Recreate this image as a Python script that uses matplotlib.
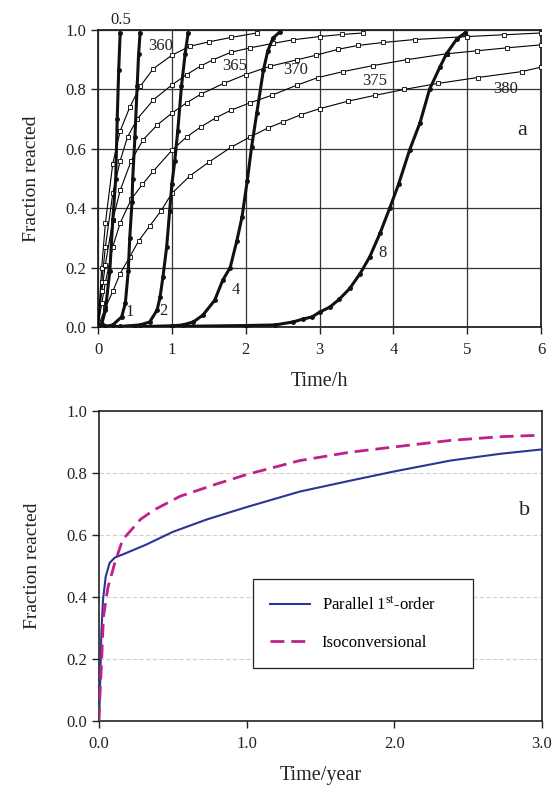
import matplotlib
matplotlib.use("Agg")
import matplotlib.pyplot as plt

plt.rcParams['font.family'] = ['Liberation Serif', 'DejaVu Serif']
plt.rcParams['mathtext.fontset'] = 'custom'
plt.rcParams['mathtext.rm'] = 'Liberation Serif'
plt.rcParams['mathtext.it'] = 'Liberation Serif:italic'

# ---------------- Panel a data ----------------
iso_labels = ["360", "365", "370", "375", "380"]
t360 = [0, 0.05, 0.1, 0.2, 0.3, 0.43, 0.57, 0.75, 1.0, 1.24, 1.5, 1.8, 2.15]
f360 = [0, 0.20, 0.35, 0.55, 0.66, 0.74, 0.81, 0.87, 0.915, 0.945, 0.96, 0.975, 0.99]
t365 = [0, 0.05, 0.1, 0.2, 0.3, 0.4, 0.53, 0.75, 1.0, 1.2, 1.4, 1.56, 1.8, 2.06, 2.37, 2.64, 3.0, 3.3, 3.59]
f365 = [0, 0.15, 0.27, 0.45, 0.56, 0.64, 0.70, 0.765, 0.815, 0.85, 0.88, 0.90, 0.925, 0.94, 0.955, 0.967, 0.978, 0.985, 0.99]
t370 = [0, 0.05, 0.1, 0.2, 0.3, 0.45, 0.61, 0.8, 1.0, 1.2, 1.4, 1.7, 2.0, 2.33, 2.7, 2.95, 3.25, 3.52, 3.86, 4.29, 5.0, 5.5, 6.0]
f370 = [0, 0.12, 0.21, 0.36, 0.46, 0.56, 0.63, 0.68, 0.72, 0.755, 0.785, 0.82, 0.85, 0.878, 0.90, 0.915, 0.935, 0.948, 0.958, 0.968, 0.978, 0.984, 0.99]
t375 = [0, 0.05, 0.1, 0.2, 0.3, 0.45, 0.6, 0.75, 1.0, 1.2, 1.4, 1.6, 1.8, 2.06, 2.35, 2.7, 2.98, 3.32, 3.72, 4.18, 4.72, 5.13, 5.54, 6.0]
f375 = [0, 0.08, 0.15, 0.27, 0.35, 0.43, 0.48, 0.525, 0.595, 0.64, 0.675, 0.705, 0.73, 0.755, 0.78, 0.815, 0.84, 0.86, 0.88, 0.90, 0.92, 0.93, 0.94, 0.95]
t380 = [0, 0.1, 0.2, 0.3, 0.43, 0.55, 0.7, 0.85, 1.0, 1.25, 1.5, 1.8, 2.06, 2.3, 2.5, 2.75, 3.0, 3.38, 3.75, 4.15, 4.6, 5.14, 5.74, 6.0]
f380 = [0, 0.065, 0.12, 0.18, 0.236, 0.29, 0.34, 0.39, 0.45, 0.51, 0.555, 0.605, 0.64, 0.67, 0.69, 0.715, 0.735, 0.76, 0.78, 0.80, 0.82, 0.84, 0.86, 0.875]

sig_labels = ["0.5", "1", "2", "4", "8"]
ts05 = [0, 0.05, 0.1, 0.16, 0.2, 0.24, 0.26, 0.28, 0.30]
fs05 = [0, 0.01, 0.057, 0.19, 0.36, 0.50, 0.70, 0.865, 0.99]
ts1 = [0, 0.1, 0.2, 0.32, 0.37, 0.41, 0.43, 0.46, 0.47, 0.50, 0.53, 0.55, 0.57]
fs1 = [0, 0.002, 0.007, 0.034, 0.08, 0.19, 0.30, 0.42, 0.50, 0.64, 0.81, 0.92, 0.99]
ts2 = [0, 0.3, 0.57, 0.70, 0.80, 0.84, 0.88, 0.93, 0.97, 1.0, 1.04, 1.08, 1.13, 1.18, 1.22]
fs2 = [0, 0.002, 0.007, 0.017, 0.057, 0.10, 0.17, 0.27, 0.39, 0.48, 0.56, 0.66, 0.81, 0.92, 0.99]
ts4 = [0, 0.5, 1.0, 1.15, 1.29, 1.42, 1.58, 1.69, 1.79, 1.88, 1.95, 2.02, 2.08, 2.15, 2.24, 2.30, 2.37, 2.46]
fs4 = [0, 0.001, 0.004, 0.007, 0.017, 0.04, 0.09, 0.158, 0.20, 0.29, 0.37, 0.49, 0.606, 0.72, 0.865, 0.93, 0.973, 0.993]
ts8 = [0, 1.0, 2.0, 2.4, 2.64, 2.78, 2.9, 3.0, 3.14, 3.27, 3.41, 3.55, 3.68, 3.82, 3.95, 4.07, 4.22, 4.36, 4.49, 4.63, 4.72, 4.86, 4.97]
fs8 = [0, 0.002, 0.005, 0.007, 0.017, 0.027, 0.034, 0.05, 0.067, 0.094, 0.13, 0.18, 0.236, 0.316, 0.40, 0.48, 0.596, 0.687, 0.80, 0.875, 0.92, 0.97, 0.99]

# ---------------- Panel b data ----------------
par_t = [0, 0.005, 0.016, 0.027, 0.045, 0.072, 0.107, 0.16, 0.32, 0.5, 0.73, 1.0, 1.36, 1.7, 2.0, 2.38, 2.72, 3.0]
par_f = [0, 0.07, 0.285, 0.39, 0.465, 0.51, 0.527, 0.537, 0.569, 0.61, 0.65, 0.69, 0.74, 0.775, 0.805, 0.84, 0.862, 0.876]
iso_t = [0, 0.003, 0.01, 0.016, 0.03, 0.06, 0.107, 0.16, 0.22, 0.28, 0.37, 0.55, 0.8, 1.0, 1.36, 1.7, 2.0, 2.38, 2.72, 3.0]
iso_f = [0, 0.05, 0.12, 0.175, 0.335, 0.43, 0.51, 0.585, 0.617, 0.65, 0.68, 0.725, 0.765, 0.795, 0.84, 0.867, 0.884, 0.905, 0.917, 0.922]

fig = plt.figure(figsize=(5.55, 7.92), dpi=100)
axa = fig.add_axes([0.1766, 0.5871, 0.7982, 0.3750])
axb = fig.add_axes([0.1784, 0.0897, 0.7982, 0.3914])

FS = 12
TXT = '#222222'
# ---- panel a ----
iso_series = [(t360, f360), (t365, f365), (t370, f370), (t375, f375), (t380, f380)]
for t, f in iso_series:
    axa.plot(t, f, color='black', lw=0.8, zorder=3)
    axa.plot(t[1:], f[1:], ls='none', marker='s', ms=2.3, mfc='white', mec='black', mew=0.6, zorder=4)
sig_series = [(ts05, fs05), (ts1, fs1), (ts2, fs2), (ts4, fs4), (ts8, fs8)]
for t, f in sig_series:
    axa.plot(t, f, color='#111111', lw=2.2, marker='o', ms=2.5, zorder=5)

axa.set_xlim(0, 6)
axa.set_ylim(0, 1.0)
axa.set_xticks(range(7))
axa.set_yticks([0, 0.2, 0.4, 0.6, 0.8, 1.0])
axa.set_yticklabels(['0.0', '0.2', '0.4', '0.6', '0.8', '1.0'])
axa.grid(True, color='#333333', lw=0.9)
axa.set_axisbelow(True)
axa.tick_params(direction='out', length=5, width=1, labelsize=FS, colors=TXT)
axa.tick_params(axis='x', pad=6)
for s in axa.spines.values():
    s.set_color(TXT)
    s.set_linewidth(1.3)
axa.set_xlabel('Time/h', fontsize=14.5, color=TXT, labelpad=10)
axa.set_ylabel('Fraction reacted', fontsize=14, color=TXT, labelpad=18)

lab_kw = dict(fontsize=FS, color=TXT, ha='center', va='center', zorder=6)
axa.text(0.31, 1.035, '0.5', clip_on=False, **lab_kw)
axa.text(0.43, 0.05, '1', **lab_kw)
axa.text(0.89, 0.055, '2', **lab_kw)
axa.text(1.86, 0.125, '4', **lab_kw)
axa.text(3.85, 0.25, '8', **lab_kw)
axa.text(0.85, 0.945, '360', **lab_kw)
axa.text(1.85, 0.88, '365', **lab_kw)
axa.text(2.67, 0.865, '370', **lab_kw)
axa.text(3.75, 0.83, '375', **lab_kw)
axa.text(5.52, 0.80, '380', **lab_kw)
axa.text(5.74, 0.66, 'a', fontsize=FS + 4, color=TXT, ha='center', va='center')

# ---- panel b ----
axb.plot(par_t, par_f, color='#2B3595', lw=1.5, label='Parallel 1$^{\\mathrm{st}}$-order', zorder=3)
axb.plot(iso_t, iso_f, color='#C0208A', lw=2.0, ls=(0, (5, 2.5)), label='Isoconversional', zorder=3)
axb.set_xlim(0, 3.0)
axb.set_ylim(0, 1.0)
axb.set_xticks([0, 1, 2, 3])
axb.set_xticklabels(['0.0', '1.0', '2.0', '3.0'])
axb.set_yticks([0, 0.2, 0.4, 0.6, 0.8, 1.0])
axb.set_yticklabels(['0.0', '0.2', '0.4', '0.6', '0.8', '1.0'])
axb.yaxis.grid(True, color='#d0d0d0', lw=0.8, ls=(0, (4, 2)))
axb.set_axisbelow(True)
axb.tick_params(direction='out', length=5, width=1, labelsize=FS, colors=TXT)
axb.tick_params(axis='x', pad=6)
for s in axb.spines.values():
    s.set_color(TXT)
    s.set_linewidth(1.2)
axb.set_xlabel('Time/year', fontsize=14.5, color=TXT, labelpad=10)
axb.set_ylabel('Fraction reacted', fontsize=14, color=TXT, labelpad=18)
axb.text(2.88, 0.68, 'b', fontsize=FS + 4, color=TXT, ha='center', va='center')

leg = axb.legend(loc='lower left', bbox_to_anchor=(0.348, 0.171, 0.497, 0.277), mode='expand',
                 fontsize=FS, frameon=True, fancybox=False, edgecolor=TXT, framealpha=1,
                 handlelength=2.4, handletextpad=0.7, labelspacing=1.3,
                 borderpad=1.0, borderaxespad=0)
leg.get_frame().set_linewidth(0.9)

fig.savefig('out.png', dpi=100)
